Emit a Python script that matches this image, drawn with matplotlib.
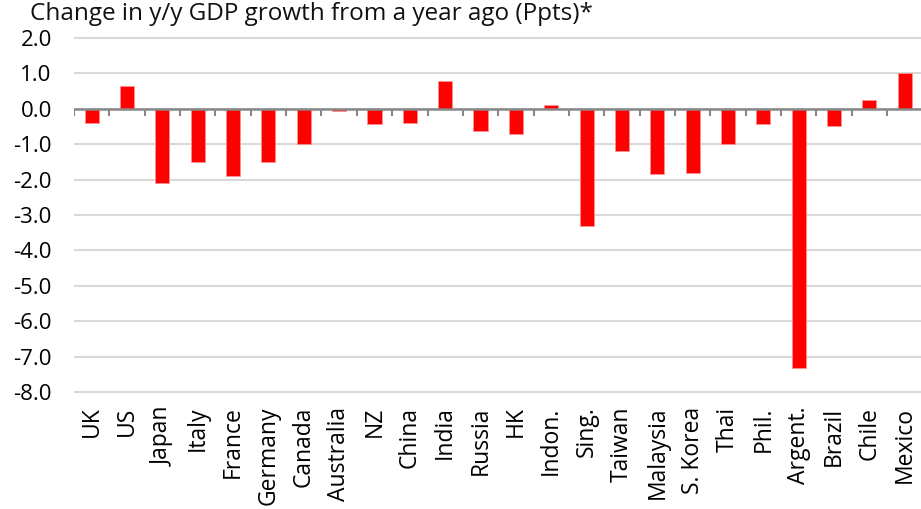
import numpy as np
import matplotlib
matplotlib.use('Agg')
import matplotlib.pyplot as plt

plt.rcParams['font.family'] = ['Open Sans', 'DejaVu Sans']

countries = ['UK', 'US', 'Japan', 'Italy', 'France', 'Germany', 'Canada', 'Australia',
             'NZ', 'China', 'India', 'Russia', 'HK', 'Indon.', 'Sing.', 'Taiwan',
             'Malaysia', 'S. Korea', 'Thai', 'Phil.', 'Argent.', 'Brazil', 'Chile', 'Mexico']
change = [-0.4, 0.65, -2.1, -1.5, -1.9, -1.5, -1.0, -0.05,
          -0.42, -0.4, 0.8, -0.64, -0.72, 0.1, -3.32, -1.19,
          -1.84, -1.8, -1.0, -0.44, -7.33, -0.49, 0.24, 1.02]
yticks = [2.0, 1.0, 0.0, -1.0, -2.0, -3.0, -4.0, -5.0, -6.0, -7.0, -8.0]

W, H = 921, 509
fig = plt.figure(figsize=(W / 100, H / 100), dpi=100)
# axes placed in pixels: y from 34.5 to 395.5 (top to bottom), x from 74 to 922.4
ax = fig.add_axes([74 / W, 1 - 395.5 / H, (922.4 - 74) / W, (395.5 - 34.5) / H])

x = np.arange(len(countries))
ax.bar(x, change, width=0.4, color='#ff0000', edgecolor='#ff9090', linewidth=0.6, zorder=3)

ax.set_xlim(-0.5, len(countries) - 0.5)
ax.set_ylim(-8.1, 2.1)
ax.set_yticks(yticks)
ax.set_yticklabels(['%.1f' % v for v in yticks])
ax.yaxis.grid(True, color='#d9d9d9', linewidth=1.5, zorder=0)
ax.tick_params(axis='y', length=0, pad=16, labelsize=16)

ax.set_xticks(x)
ax.set_xticklabels(countries, rotation=90, va='top', ha='center')
ax.tick_params(axis='x', length=0, pad=8, labelsize=16.5)

for s in ax.spines.values():
    s.set_visible(False)

# zero line with boundary tick marks
ax.axhline(0, color='#888888', linewidth=1.8, zorder=4)
bounds = np.arange(len(countries) + 1) - 0.5
ax.vlines(bounds, -0.2, 0, color='#888888', linewidth=1.5, zorder=4)

fig.text(30 / W, 1 - 2 / H, 'Change in y/y GDP growth from a year ago (Ppts)*',
         fontsize=17.5, va='top', ha='left', color='#111111')

fig.savefig('out.png', dpi=100)
